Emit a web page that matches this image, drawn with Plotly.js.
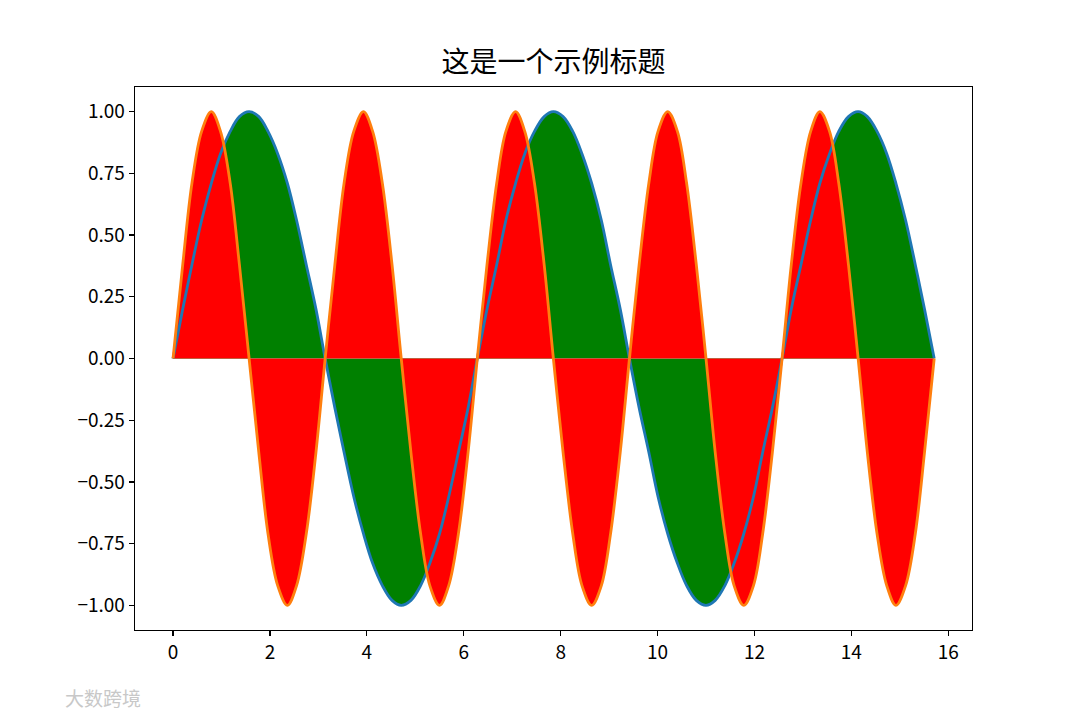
<!DOCTYPE html>
<html>
<head>
<meta charset="utf-8">
<script src="https://cdn.plot.ly/plotly-3.0.1.min.js"></script>
<style>html,body{margin:0;padding:0;background:#fff;}#chart{width:1080px;height:720px;}</style>
</head>
<body>
<div id="chart"></div>
<script>
// x samples (0 .. 5π)
const xValues = [0,0.20,0.39,0.59,0.79,0.98,1.18,1.37,1.57,1.77,1.96,2.16,2.36,2.55,2.75,2.95,3.14,3.34,3.53,3.73,3.93,4.12,4.32,4.52,4.71,4.91,5.11,5.30,5.50,5.69,5.89,6.09,6.28,6.48,6.68,6.87,7.07,7.26,7.46,7.66,7.85,8.05,8.25,8.44,8.64,8.84,9.03,9.23,9.42,9.62,9.82,10.01,10.21,10.41,10.60,10.80,11.00,11.19,11.39,11.58,11.78,11.98,12.17,12.37,12.57,12.76,12.96,13.16,13.35,13.55,13.74,13.94,14.14,14.33,14.53,14.73,14.92,15.12,15.32,15.51,15.71];
// blue curve (slow wave)
const slowWave = [0,0.20,0.38,0.56,0.71,0.83,0.92,0.98,1.00,0.98,0.92,0.83,0.71,0.56,0.38,0.20,0,
 -0.20,-0.38,-0.56,-0.71,-0.83,-0.92,-0.98,-1.00,-0.98,-0.92,-0.83,-0.71,-0.56,-0.38,-0.20,0,
 0.20,0.38,0.56,0.71,0.83,0.92,0.98,1.00,0.98,0.92,0.83,0.71,0.56,0.38,0.20,0,
 -0.20,-0.38,-0.56,-0.71,-0.83,-0.92,-0.98,-1.00,-0.98,-0.92,-0.83,-0.71,-0.56,-0.38,-0.20,0,
 0.20,0.38,0.56,0.71,0.83,0.92,0.98,1.00,0.98,0.92,0.83,0.71,0.56,0.38,0.20,0];
// orange curve (fast wave)
const fastWave = [0,0.38,0.71,0.92,1.00,0.92,0.71,0.38,0,-0.38,-0.71,-0.92,-1.00,-0.92,-0.71,-0.38,
 0,0.38,0.71,0.92,1.00,0.92,0.71,0.38,0,-0.38,-0.71,-0.92,-1.00,-0.92,-0.71,-0.38,
 0,0.38,0.71,0.92,1.00,0.92,0.71,0.38,0,-0.38,-0.71,-0.92,-1.00,-0.92,-0.71,-0.38,
 0,0.38,0.71,0.92,1.00,0.92,0.71,0.38,0,-0.38,-0.71,-0.92,-1.00,-0.92,-0.71,-0.38,
 0,0.38,0.71,0.92,1.00,0.92,0.71,0.38,0,-0.38,-0.71,-0.92,-1.00,-0.92,-0.71,-0.38,0];
const xTicks = [0,2,4,6,8,10,12,14,16];
const yTicks = [-1,-0.75,-0.5,-0.25,0,0.25,0.5,0.75,1];
const titleText = '这是一个示例标题';
const watermark = '大数跨境';

const font = '"Noto Sans CJK SC", "DejaVu Sans", sans-serif';
const sm = 1.0;
const traces = [
  {x: xValues, y: slowWave, type: 'scatter', mode: 'lines', fill: 'tozeroy',
   fillcolor: '#008000', line: {width: 0, shape: 'spline', smoothing: sm}, hoverinfo: 'skip'},
  {x: xValues, y: fastWave, type: 'scatter', mode: 'lines', fill: 'tozeroy',
   fillcolor: '#ff0000', line: {width: 0, shape: 'spline', smoothing: sm}, hoverinfo: 'skip'},
  {x: xValues, y: slowWave, type: 'scatter', mode: 'lines',
   line: {color: '#1f77b4', width: 2.8, shape: 'spline', smoothing: sm}},
  {x: xValues, y: fastWave, type: 'scatter', mode: 'lines',
   line: {color: '#ff7f0e', width: 2.8, shape: 'spline', smoothing: sm}}
];
const axisCommon = {
  showgrid: false, zeroline: false, showline: true, mirror: true,
  linecolor: '#000', linewidth: 1.3, ticks: 'outside', ticklen: 5, tickwidth: 1.3,
  tickcolor: '#000', tickfont: {family: font, size: 19, color: '#000'}
};
const layout = {
  width: 1080, height: 720,
  paper_bgcolor: '#fff', plot_bgcolor: '#fff',
  showlegend: false,
  margin: {l: 135, r: 108, t: 87, b: 90},
  title: {text: titleText, font: {family: font, size: 28, color: '#000'},
          x: 0.5, xref: 'paper', y: 0.914, yanchor: 'middle'},
  xaxis: Object.assign({}, axisCommon, {range: [-0.785, 16.49], tickvals: xTicks,
          ticktext: xTicks.map(String)}),
  yaxis: Object.assign({}, axisCommon, {range: [-1.1, 1.1], tickvals: yTicks,
          tickformat: '.2f'}),
  annotations: [{text: watermark, xref: 'paper', yref: 'paper', x: -0.038, y: -0.125,
    xanchor: 'center', yanchor: 'middle', showarrow: false,
    font: {family: font, size: 19, color: '#c8c8c8'}}]
};
Plotly.newPlot('chart', traces, layout, {displayModeBar: false, staticPlot: true});
</script>
</body>
</html>
